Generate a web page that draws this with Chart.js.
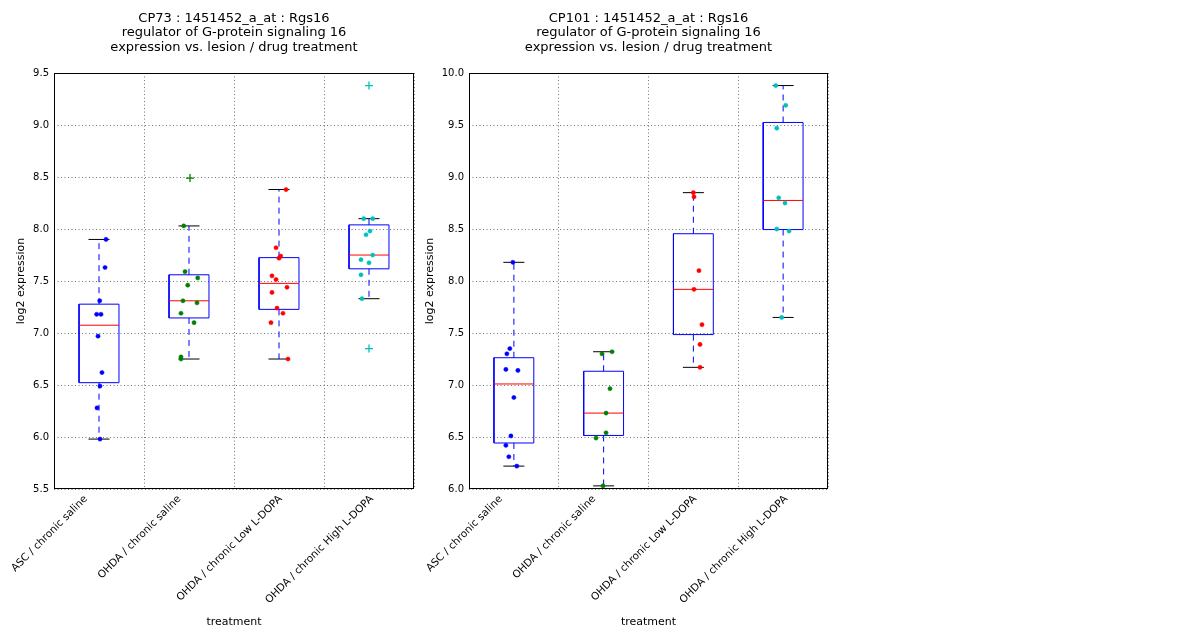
<!DOCTYPE html>
<html><head><meta charset="utf-8">
<script src="https://cdn.jsdelivr.net/npm/chart.js@4/dist/chart.umd.min.js"></script>
<style>
html,body{margin:0;padding:0;background:#fff;width:1200px;height:640px;overflow:hidden}
.c{position:absolute;top:0;height:640px}
#w1{left:0;width:430px}
#w2{left:409px;width:436px}
</style></head><body>
<div class="c" id="w1"><canvas id="c1"></canvas></div>
<div class="c" id="w2"><canvas id="c2"></canvas></div>
<script>
// ---------- DATA ----------
const categories = ['ASC / chronic saline', 'OHDA / chronic saline', 'OHDA / chronic Low L-DOPA', 'OHDA / chronic High L-DOPA'];
const groupColors = ['#0000ff', '#008000', '#ff0000', '#00bfbf'];

const titleCP73 = ['CP73 : 1451452_a_at : Rgs16', 'regulator of G-protein signaling 16', 'expression vs. lesion / drug treatment'];
const titleCP101 = ['CP101 : 1451452_a_at : Rgs16', 'regulator of G-protein signaling 16', 'expression vs. lesion / drug treatment'];
const yTitle = 'log2 expression';
const xTitle = 'treatment';

// CP73 log2 expression values per treatment group
const cp73Asc      = [7.90, 7.63, 7.31, 7.18, 7.18, 6.97, 6.62, 6.49, 6.28, 5.98];
const cp73OhdaSal  = [8.49, 8.03, 7.59, 7.53, 7.46, 7.31, 7.29, 7.19, 7.10, 6.77, 6.75];
const cp73OhdaLow  = [8.38, 7.82, 7.74, 7.72, 7.55, 7.515, 7.44, 7.39, 7.24, 7.19, 7.10, 6.75];
const cp73OhdaHigh = [9.38, 8.10, 8.10, 7.98, 7.945, 7.75, 7.705, 7.675, 7.56, 7.33, 6.85];
// horizontal jitter of each dot (category units)
const cp73AscJit      = [0.078, 0.067, 0.008, -0.026, 0.022, -0.011, 0.033, 0.011, -0.022, 0.011];
const cp73OhdaSalJit  = [0.011, -0.059, -0.044, 0.097, -0.014, -0.067, 0.089, -0.089, 0.056, -0.089, -0.089];
const cp73OhdaLowJit  = [0.078, -0.033, 0.019, 0.0, -0.078, -0.033, 0.089, -0.078, -0.022, 0.044, -0.089, 0.1];
const cp73OhdaHighJit = [0.0, -0.059, 0.041, 0.011, -0.033, 0.041, -0.089, 0.0, -0.089, -0.078, 0.0];

// CP101 log2 expression values per treatment group
const cp101Asc      = [8.18, 7.35, 7.30, 7.15, 7.14, 6.88, 6.51, 6.42, 6.31, 6.22];
const cp101OhdaSal  = [7.32, 7.30, 6.965, 6.73, 6.54, 6.49, 6.03];
const cp101OhdaLow  = [8.85, 8.81, 8.10, 7.92, 7.58, 7.39, 7.17];
const cp101OhdaHigh = [9.88, 9.69, 9.47, 8.80, 8.75, 8.50, 8.48, 7.65];
const cp101AscJit      = [-0.011, -0.045, -0.078, -0.089, 0.045, 0.0, -0.033, -0.089, -0.056, 0.033];
const cp101OhdaSalJit  = [0.094, -0.018, 0.071, 0.027, 0.027, -0.085, -0.007];
const cp101OhdaLowJit  = [0.0, 0.007, 0.062, 0.007, 0.096, 0.074, 0.074];
const cp101OhdaHighJit = [-0.082, 0.029, -0.071, -0.049, 0.021, -0.071, 0.066, -0.016];

const cp73YTicks  = [5.5, 9.5, 0.5];   // min, max, step
const cp101YTicks = [6.0, 10.0, 0.5];

// ---------- HELPERS ----------
const FONT = "'DejaVu Sans', sans-serif";
Chart.defaults.font.family = FONT;
Chart.defaults.color = '#000';
const GRID = 'rgba(0,0,0,0.55)';
const BOX_HALF = 0.222, CAP_HALF = 0.117;
const XLAB_SIZE = 10.4;

const measureCtx = document.createElement('canvas').getContext('2d');
measureCtx.font = XLAB_SIZE + 'px ' + FONT;
const labelWidths = categories.map(t => measureCtx.measureText(t).width);

function quantile(s, p) {
  const pos = (s.length - 1) * p, lo = Math.floor(pos), hi = Math.ceil(pos);
  return s[lo] + (s[hi] - s[lo]) * (pos - lo);
}
function boxStats(vals) {
  const s = [...vals].sort((a, b) => a - b);
  const q1 = quantile(s, 0.25), med = quantile(s, 0.5), q3 = quantile(s, 0.75);
  const iqr = q3 - q1, lo = q1 - 1.5 * iqr, hi = q3 + 1.5 * iqr;
  const inside = s.filter(v => v >= lo && v <= hi);
  return { q1, med, q3, lo, hi, wlo: inside[0], whi: inside[inside.length - 1] };
}
function seg(data, color, dash, order) {
  return { data, showLine: true, borderColor: color, borderWidth: 1, borderDash: dash || [],
           pointRadius: 0, pointHoverRadius: 0, fill: false, order: order || 2, tension: 0 };
}
function buildDatasets(groups, jitters) {
  const ds = [];
  groups.forEach((vals, i) => {
    const c = i + 1, st = boxStats(vals), col = groupColors[i];
    const isFlier = v => v < st.lo || v > st.hi;
    ds.push({
      data: vals.map((v, k) => ({ x: c + jitters[i][k], y: v })),
      showLine: false, order: 0,
      pointStyle: ctx => isFlier(ctx.raw.y) ? 'cross' : 'circle',
      pointRadius: ctx => isFlier(ctx.raw.y) ? 4 : 2.1,
      pointHoverRadius: ctx => isFlier(ctx.raw.y) ? 4 : 2.1,
      backgroundColor: col, borderColor: col,
      borderWidth: ctx => isFlier(ctx.raw.y) ? 1.3 : 0.5
    });
    ds.push(seg([{x: c - BOX_HALF, y: st.q1}, {x: c + BOX_HALF, y: st.q1}, {x: c + BOX_HALF, y: st.q3},
                 {x: c - BOX_HALF, y: st.q3}, {x: c - BOX_HALF, y: st.q1}], '#0000ff'));
    ds.push(seg([{x: c - BOX_HALF, y: st.med}, {x: c + BOX_HALF, y: st.med}], '#ff0000', null, 1));
    ds.push(seg([{x: c, y: st.q3}, {x: c, y: st.whi}], '#0000ff', [6, 5]));
    ds.push(seg([{x: c, y: st.q1}, {x: c, y: st.wlo}], '#0000ff', [6, 5]));
    ds.push(seg([{x: c - CAP_HALF, y: st.whi}, {x: c + CAP_HALF, y: st.whi}], '#000000'));
    ds.push(seg([{x: c - CAP_HALF, y: st.wlo}, {x: c + CAP_HALF, y: st.wlo}], '#000000'));
  });
  return ds;
}

const framePlugin = {
  id: 'frame',
  afterDraw(chart) {
    const { ctx, chartArea: a } = chart;
    ctx.save();
    ctx.strokeStyle = '#000'; ctx.lineWidth = 1;
    ctx.strokeRect(Math.round(a.left) + 0.5, Math.round(a.top) + 0.5,
                   Math.round(a.right - a.left) - 1, Math.round(a.bottom - a.top) - 1);
    ctx.restore();
  }
};

// x ticks: grid ticks on group boundaries; labels (as in the original figure) centred on
// boundaries 0.5 .. 3.5, shifted so the rotated text box is centred on that boundary.
function xTicksFor(sc) {
  const span = sc.max - sc.min;
  const ppu = (sc.width > 0 ? sc.width : 360) / span;
  const lh = XLAB_SIZE * 1.2;
  const ticks = [];
  for (let i = 0; i <= categories.length; i++) ticks.push({ value: i + 0.5, labelIdx: -1 });
  categories.forEach((c, i) => {
    const shiftPx = Math.SQRT1_2 * (labelWidths[i] - lh) / 2;
    ticks.push({ value: i + 0.5 + shiftPx / ppu, labelIdx: i });
  });
  return ticks.sort((a, b) => a.value - b.value);
}

function makeChart(canvasId, titleLines, groups, jitters, yTicks, yAxisWidth, padRight) {
  return new Chart(document.getElementById(canvasId), {
    type: 'scatter',
    data: { datasets: buildDatasets(groups, jitters) },
    plugins: [framePlugin],
    options: {
      responsive: true, maintainAspectRatio: false, animation: false, events: [],
      layout: { padding: { left: 0, right: padRight, top: 0, bottom: 0 } },
      plugins: {
        legend: { display: false }, tooltip: { enabled: false },
        title: { display: true, text: titleLines, fullSize: false, color: '#000',
                 font: { size: 13, weight: 'normal', lineHeight: 1.13 },
                 padding: { top: 11, bottom: 18 } }
      },
      scales: {
        x: {
          type: 'linear', min: 0.5, max: 0.5 + categories.length,
          afterBuildTicks: sc => { sc.ticks = xTicksFor(sc); },
          afterFit: sc => { sc.height = 151; sc.paddingLeft = 0; sc.paddingRight = 0; },
          ticks: { autoSkip: false, minRotation: 45, maxRotation: 45, padding: 4,
                   font: { size: XLAB_SIZE }, color: '#000',
                   callback: (v, idx, ticks) => ticks[idx].labelIdx >= 0 ? categories[ticks[idx].labelIdx] : '' },
          grid: { drawTicks: false, lineWidth: 1,
                  color: ctx => (ctx.tick && ctx.tick.labelIdx >= 0) ? 'rgba(0,0,0,0)' : GRID },
          border: { display: false, dash: [1, 2.5] },
          title: { display: true, text: xTitle, color: '#000', font: { size: 11 },
                   padding: { top: 0, bottom: 11 } }
        },
        y: {
          min: yTicks[0], max: yTicks[1],
          afterFit: sc => { sc.width = yAxisWidth; },
          ticks: { stepSize: yTicks[2], padding: 5, font: { size: 10 }, color: '#000',
                   callback: v => Number(v).toFixed(1) },
          grid: { drawTicks: false, lineWidth: 1, color: GRID },
          border: { display: false, dash: [1, 2.5] },
          title: { display: true, text: yTitle, color: '#000', font: { size: 11 },
                   padding: { top: 15, bottom: 0 } }
        }
      }
    }
  });
}

makeChart('c1', titleCP73, [cp73Asc, cp73OhdaSal, cp73OhdaLow, cp73OhdaHigh],
          [cp73AscJit, cp73OhdaSalJit, cp73OhdaLowJit, cp73OhdaHighJit], cp73YTicks, 54, 16);
makeChart('c2', titleCP101, [cp101Asc, cp101OhdaSal, cp101OhdaLow, cp101OhdaHigh],
          [cp101AscJit, cp101OhdaSalJit, cp101OhdaLowJit, cp101OhdaHighJit], cp101YTicks, 60, 17);
</script>
</body></html>
